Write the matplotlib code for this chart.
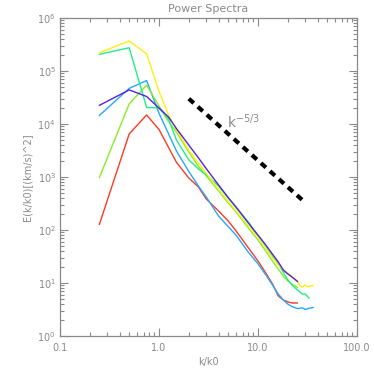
import matplotlib
matplotlib.use("Agg")
import matplotlib.pyplot as plt
import numpy as np
from matplotlib.ticker import LogLocator, FixedLocator, NullFormatter

# ---- data ----
k_base = [0.25, 0.5, 0.75, 1.0, 1.25, 1.5, 2, 2.5, 3, 4, 5, 6, 8, 10, 12, 14, 16, 18, 20, 22, 25]
k_long = k_base + [26.5, 28, 30, 32, 34, 36]
k_teal = k_base + [28, 30, 32.7]
k_blue = k_base + [28, 30, 32, 36]

E_purple = [2.25e4, 4.4e4, 3.3e4, 2.0e4, 1.35e4, 8.2e3, 4.0e3, 2.3e3, 1.44e3, 705, 410, 270,
            135, 80, 52, 35, 25, 17.6, 14.8, 13, 10.7]
E_yellow = [2.2e5, 3.7e5, 2.1e5, 4.1e4, 1.48e4, 7.7e3, 3.2e3, 1.83e3, 1.19e3, 580, 345, 230,
            119, 74, 46, 30, 22, 17.6, 15.4, 13.5, 10.9, 8.8, 8.4, 9.2, 8.4, 8.8, 8.9]
E_teal = [2.06e5, 2.75e5, 2.05e4, 2.0e4, 1.24e4, 5.0e3, 2.1e3, 1.42e3, 1.1e3, 675, 400, 270,
          141, 77, 48, 32, 23, 16, 11.4, 9.2, 7.4, 6.2, 6.2, 5.2]
E_lime = [980, 2.4e4, 5.4e4, 2.2e4, 1.1e4, 7.1e3, 2.95e3, 1.6e3, 1.05e3, 545, 324, 218,
          109, 65, 40, 26, 18.3, 13.5, 10.9, 9.6, 8.2]
E_blue = [1.45e4, 4.7e4, 6.6e4, 1.6e4, 6.5e3, 3.1e3, 1.27e3, 675, 420, 183, 116, 80,
          38, 23, 14.2, 9.2, 6.2, 4.8, 4.0, 3.6, 3.3, 3.4, 3.16, 3.3, 3.45]
E_red = [128, 6.5e3, 1.48e4, 7.9e3, 3.6e3, 1.9e3, 955, 650, 385, 228, 148, 96,
         46, 26, 15.4, 9.6, 5.7, 4.8, 4.4, 4.2, 4.2]

# reference slope line E = A * (k/k0)^(-5/3)
k_ref = [2.0, 30.0]
A_ref = 3.0e4
ref_label = r"$\mathrm{k}^{-5/3}$"
ref_label_pos = (4.9, 8.3e3)

xticks = [0.1, 1.0, 10.0, 100.0]
xticklabels = ["0.1", "1.0", "10.0", "100.0"]
yticks = [1e0, 1e1, 1e2, 1e3, 1e4, 1e5, 1e6]
yticklabels = [r"$10^{%d}$" % i for i in range(7)]

gray = "#8a8a8a"
plt.rcParams['font.family'] = ['DejaVu Sans']
plt.rcParams['mathtext.fontset'] = 'dejavusans'

fig = plt.figure(figsize=(3.74, 3.74), dpi=100)
ax = fig.add_axes([60/374, 38/374, 297/374, 318/374])

series = [
    (k_base, E_red, "#ff3a22"),
    (k_blue, E_blue, "#22a8ff"),
    (k_base, E_lime, "#88ee22"),
    (k_teal, E_teal, "#22ee88"),
    (k_long, E_yellow, "#ffee11"),
    (k_base, E_purple, "#5522dd"),
]
for kk, ee, c in series:
    ax.plot(kk, ee, color=c, lw=1.0)

kr = np.array(k_ref)
ax.plot(kr, A_ref * (kr / kr[0]) ** (-5.0 / 3.0), color="black", lw=3.0,
        dashes=(1.6, 1.3), solid_capstyle="butt", dash_capstyle="butt")
ax.text(ref_label_pos[0], ref_label_pos[1], ref_label, color=gray, fontsize=10,
        va="baseline", ha="left")

ax.set_xscale("log")
ax.set_yscale("log")
ax.set_xlim(0.1, 100)
ax.set_ylim(1, 1e6)
ax.xaxis.set_major_locator(FixedLocator(xticks))
ax.set_xticklabels(xticklabels)
ax.yaxis.set_major_locator(FixedLocator(yticks))
ax.set_yticklabels(yticklabels)
ax.xaxis.set_minor_locator(LogLocator(base=10, subs=np.arange(2, 10)))
ax.yaxis.set_minor_locator(LogLocator(base=10, subs=np.arange(2, 10)))
ax.xaxis.set_minor_formatter(NullFormatter())
ax.yaxis.set_minor_formatter(NullFormatter())

ax.tick_params(which="both", direction="in", top=True, right=True, color=gray,
               labelcolor=gray, labelsize=7, width=0.8)
ax.tick_params(which="major", length=5.5)
ax.tick_params(which="minor", length=2.8)
ax.tick_params(axis="x", pad=5)
ax.tick_params(axis="y", pad=3)
for s in ax.spines.values():
    s.set_color(gray)
    s.set_linewidth(0.9)

ax.set_title("Power Spectra", color=gray, fontsize=8, pad=4)
ax.set_xlabel("k/k0", color=gray, fontsize=7, labelpad=3)
ax.set_ylabel("E(k/k0)[(km/s)^2]", color=gray, fontsize=7, labelpad=4)

fig.savefig("out.png", dpi=100)
